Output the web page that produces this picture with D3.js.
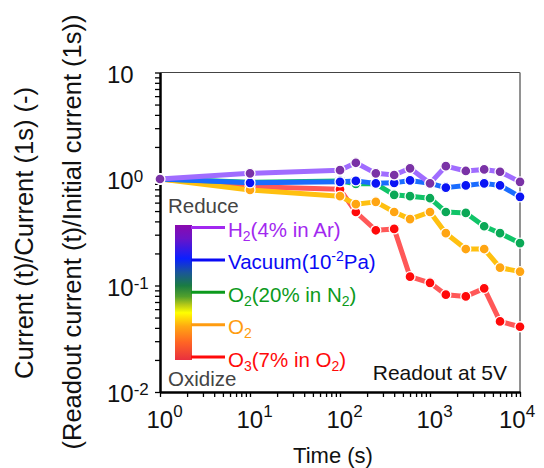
<!DOCTYPE html>
<html><head><meta charset="utf-8">
<script src="https://cdn.jsdelivr.net/npm/d3@7"></script>
<style>
body{margin:0;background:#fff}
svg{display:block;font-family:"Liberation Sans",Arial,Helvetica,sans-serif}
</style>
</head><body>
<svg id="c" width="544" height="468"></svg>
<script>
// ---- data ----
const times = [1, 10, 100, 150, 250, 400, 600, 1000, 1500, 2500, 4000, 6000, 10000];
const h2Values     = [1.0, 1.13, 1.21, 1.42, 1.13, 1.09, 1.26, 0.91, 1.32, 1.19, 1.23, 1.17, 0.94];
const vacuumValues = [1.0, 0.92, 0.94, 0.96, 0.91, 0.92, 0.97, 0.91, 0.83, 0.87, 0.91, 0.87, 0.68];
const o2n2Values   = [1.0, 0.93, 0.96, 0.90, 0.90, 0.71, 0.69, 0.66, 0.49, 0.48, 0.36, 0.31, 0.25];
const o2Values     = [1.0, 0.79, 0.69, 0.58, 0.61, 0.49, 0.42, 0.49, 0.31, 0.22, 0.22, 0.147, 0.135];
const o3Values     = [1.0, 0.85, 0.80, 0.49, 0.33, 0.34, 0.121, 0.106, 0.082, 0.079, 0.094, 0.046, 0.041];

const seriesKeys = ["H2", "Vacuum", "O2N2", "O2", "O3"];
const lineColors  = ["#a06cff", "#1a6cff", "#10c468", "#ffc010", "#ff5858"];
const pointColors = ["#7a32a6", "#0a14f5", "#0aa856", "#ffa512", "#ff0a0a"];
const labelColors = ["#a228f0", "#0a0af5", "#0c9a1c", "#ff9c10", "#ff0a0a"];
const legendLabels = [
  [["H",""],["2","sub"],["(4% in Ar)",""]],
  [["Vacuum(10",""],["-2","sup"],["Pa)",""]],
  [["O",""],["2","sub"],["(20% in N",""],["2","sub"],[")",""]],
  [["O",""],["2","sub"]],
  [["O",""],["3","sub"],["(7% in O",""],["2","sub"],[")",""]]
];
const xTickExps = [0, 1, 2, 3, 4];
const yTickExps = [1, 0, -1, -2];
const xTitle = "Time (s)";
const yTitle1 = "Current (t)/Current (1s) (-)";
const yTitle2 = "(Readout current  (t)/Initial current (1s))";
const note = "Readout at 5V";
const topNote = "Reduce", bottomNote = "Oxidize";

// ---- chart ----
const svg = d3.select("#c");
const L = 160, R = 520, T = 72.5, B = 392;
const x = d3.scaleLog().domain([1, 1e4]).range([L, R]);
const y = d3.scaleLog().domain([0.01, 10]).range([B, T]);

const allValues = [h2Values, vacuumValues, o2n2Values, o2Values, o3Values];
const series = seriesKeys.map((k, i) => ({
  key: k, i,
  pts: times.map((t, j) => ({t, v: allValues[i][j]}))
}));

// frame (top/right thin)
svg.append("line").attr("x1", L).attr("x2", R).attr("y1", T).attr("y2", T)
  .attr("stroke", "#444").attr("stroke-width", 1.2);
svg.append("line").attr("x1", R).attr("x2", R).attr("y1", T).attr("y2", B)
  .attr("stroke", "#777").attr("stroke-width", 1.6);

// minor tick values
const minor = (lo, hi) => {
  const out = [];
  for (let e = lo; e < hi; e++) for (let m = 1; m < 10; m++) out.push(m * Math.pow(10, e));
  out.push(Math.pow(10, hi));
  return out;
};

// y axis
const yAx = svg.append("g").attr("transform", `translate(${L},0)`)
  .call(d3.axisLeft(y).tickValues(minor(-2, 1)).tickFormat("").tickSize(5).tickSizeOuter(0));
yAx.select(".domain").attr("stroke", "#000").attr("stroke-width", 2.5);
yAx.selectAll(".tick line").attr("stroke", "#000").attr("stroke-width", 1.3);

// x axis
const xAx = svg.append("g").attr("transform", `translate(0,${B})`)
  .call(d3.axisBottom(x).tickValues(minor(0, 4)).tickFormat("").tickSize(5).tickSizeOuter(0));
xAx.select(".domain").attr("stroke", "#000").attr("stroke-width", 2.5);
xAx.selectAll(".tick line").attr("stroke", "#000").attr("stroke-width", 1.3);

// y tick labels
yTickExps.forEach(e => {
  const t = svg.append("text").attr("x", 107).attr("y", y(Math.pow(10, e)) + 10)
    .attr("font-size", 24).attr("fill", "#111");
  t.append("tspan").text("10");
  if (e !== 1) t.append("tspan").attr("font-size", 17).attr("dy", -7).text(String(e));
});

// x tick labels
xTickExps.forEach(e => {
  const cx = x(Math.pow(10, e));
  const left = Math.min(cx - 13.5, 536 - 37);
  const t = svg.append("text").attr("x", left).attr("y", 428)
    .attr("font-size", 24).attr("fill", "#111");
  t.append("tspan").text("10");
  t.append("tspan").attr("font-size", 17).attr("dy", -11).text(String(e));
});

// axis titles
svg.append("text").attr("x", 333).attr("y", 463).attr("text-anchor", "middle")
  .attr("font-size", 22).attr("fill", "#111").text(xTitle);
svg.append("text").attr("transform", "translate(33,233) rotate(-90)")
  .attr("text-anchor", "middle").attr("font-size", 25.5).attr("fill", "#111").text(yTitle1);
svg.append("text").attr("transform", "translate(81,232) rotate(-90)")
  .attr("text-anchor", "middle").attr("font-size", 25.5).attr("fill", "#111").text(yTitle2);

// data series: draw from O3 up to H2
const line = d3.line().x(d => x(d.t)).y(d => y(d.v));
series.slice().reverse().forEach(s => {
  const g = svg.append("g");
  g.append("path").datum(s.pts).attr("d", line).attr("fill", "none")
    .attr("stroke", lineColors[s.i]).attr("stroke-width", 5)
    .attr("stroke-linejoin", "round").attr("stroke-linecap", "round");
  g.selectAll("circle").data(s.pts).join("circle")
    .attr("cx", d => x(d.t)).attr("cy", d => y(d.v)).attr("r", 5)
    .attr("fill", pointColors[s.i]).attr("stroke", "#fff").attr("stroke-width", 1.3);
});

// legend gradient bar
const defs = svg.append("defs");
const grad = defs.append("linearGradient").attr("id", "gbar")
  .attr("x1", 0).attr("x2", 0).attr("y1", 0).attr("y2", 1);
[[0, "#8a0aae"], [0.1, "#6a14c8"], [0.25, "#0a20ff"], [0.35, "#1a559a"],
 [0.45, "#1a7c42"], [0.53, "#52a02c"], [0.59, "#b4c818"], [0.65, "#ffff00"],
 [0.75, "#ffa812"], [0.87, "#ff6424"], [1, "#e8303f"]]
  .forEach(([o, c]) => grad.append("stop").attr("offset", o).attr("stop-color", c));
svg.append("rect").attr("x", 175).attr("y", 225).attr("width", 17).attr("height", 135)
  .attr("fill", "url(#gbar)");

svg.append("text").attr("x", 168).attr("y", 213).attr("font-size", 20.5)
  .attr("fill", "#444").text(topNote);
svg.append("text").attr("x", 168).attr("y", 386).attr("font-size", 20.5)
  .attr("fill", "#444").text(bottomNote);

legendLabels.forEach((parts, i) => {
  const ly = 227.5 + i * 32.4;
  svg.append("line").attr("x1", 191).attr("x2", 225).attr("y1", ly).attr("y2", ly)
    .attr("stroke", labelColors[i]).attr("stroke-width", 3);
  const t = svg.append("text").attr("x", 228).attr("y", ly + 9.5)
    .attr("font-size", 20.5).attr("fill", labelColors[i]);
  let off = 0;
  parts.forEach(([txt, kind]) => {
    const target = kind === "sub" ? 4 : kind === "sup" ? -8 : 0;
    t.append("tspan").attr("dy", target - off)
      .attr("font-size", kind ? 14 : 20.5).text(txt);
    off = target;
  });
});

svg.append("text").attr("x", 507).attr("y", 380).attr("text-anchor", "end")
  .attr("font-size", 21).attr("fill", "#111").text(note);
</script>
</body></html>
